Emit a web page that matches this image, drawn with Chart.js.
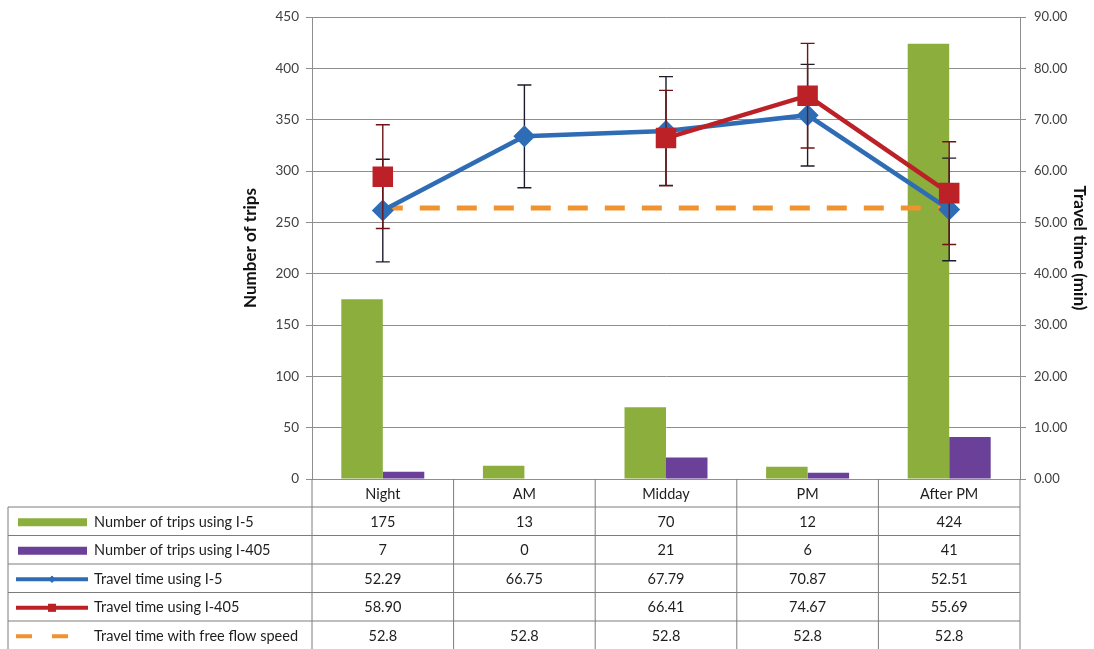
<!DOCTYPE html>
<html>
<head>
<meta charset="utf-8">
<title>Trips and travel time by period</title>
<script src="https://cdn.jsdelivr.net/npm/chart.js@4.4.1/dist/chart.umd.min.js"></script>
<style>
  html, body { margin: 0; padding: 0; background: #fff; }
</style>
</head>
<body>
<canvas id="tripsChart" width="1094" height="649"></canvas>
<script>
// data
const periods = ['Night', 'AM', 'Midday', 'PM', 'After PM'];
const tripsI5 = [175, 13, 70, 12, 424];
const tripsI405 = [7, 0, 21, 6, 41];
const timeI5 = [52.29, 66.75, 67.79, 70.87, 52.51];
const timeI405 = [58.90, null, 66.41, 74.67, 55.69];
const timeFreeFlow = [52.8, 52.8, 52.8, 52.8, 52.8];
// whisker half-lengths (min)
const errI5 = [10.0, 10.0, 10.6, 9.9, 10.0];
const errI405 = [10.1, null, 9.3, 10.2, 10.0];

const FONT = 'Lato, "Open Sans", sans-serif';
const GRID = '#8e8e8e';

// whiskers go under the markers of their own series
const errorBars = {
    id: 'errorBars',
    beforeDatasetDraw(chart, args) {
        const ds = chart.data.datasets[args.index];
        if (!ds.errors) return;
        const y1 = chart.scales.y1;
        const ctx = chart.ctx;
        ctx.save();
        ctx.strokeStyle = ds.errorColor;
        ctx.lineWidth = 1.4;
        args.meta.data.forEach((pt, i) => {
            const v = ds.data[i], e = ds.errors[i];
            if (v == null || e == null) return;
            const top = y1.getPixelForValue(v + e);
            const bot = y1.getPixelForValue(v - e);
            ctx.beginPath();
            ctx.moveTo(pt.x, top); ctx.lineTo(pt.x, bot);
            ctx.moveTo(pt.x - 7, top); ctx.lineTo(pt.x + 7, top);
            ctx.moveTo(pt.x - 7, bot); ctx.lineTo(pt.x + 7, bot);
            ctx.stroke();
        });
        ctx.restore();
    }
};

// Excel-style data table under the plot
const dataTable = {
    id: 'dataTable',
    afterDraw(chart) {
        const { ctx, chartArea, scales: { x } } = chart;
        const top = chartArea.bottom;
        const headH = 28, rowH = 28.5;
        const tLeft = 8, tRight = chartArea.right;
        const bottom = chart.height;
        const n = periods.length;
        const step = chartArea.width / n;
        const bounds = [];
        for (let i = 0; i <= n; i++) bounds.push(chartArea.left + i * step);

        ctx.save();
        ctx.strokeStyle = '#7c7c7c';
        ctx.lineWidth = 1;
        ctx.beginPath();
        // column lines
        bounds.forEach(bx => { ctx.moveTo(bx, top); ctx.lineTo(bx, bottom); });
        ctx.moveTo(tLeft, top + headH); ctx.lineTo(tLeft, bottom);
        // row lines
        const rows = chart.data.datasets;
        for (let r = 0; r < rows.length; r++) {
            const ry = top + headH + r * rowH;
            ctx.moveTo(tLeft, ry); ctx.lineTo(tRight, ry);
        }
        ctx.stroke();

        ctx.font = '14.5px ' + FONT;
        ctx.fillStyle = '#1e1e1e';
        ctx.textAlign = 'center';
        ctx.textBaseline = 'middle';
        periods.forEach((p, i) => ctx.fillText(p, x.getPixelForValue(i), top + headH / 2 + 1));

        rows.forEach((ds, r) => {
            const cy = top + headH + r * rowH + rowH / 2 + 1;
            // legend key
            ctx.save();
            if (ds.type === 'bar') {
                ctx.fillStyle = ds.backgroundColor;
                ctx.fillRect(18, cy - 4, 69, 8);
            } else {
                ctx.strokeStyle = ds.borderColor;
                ctx.lineWidth = 4;
                if (ds.borderDash) ctx.setLineDash([16, 20]);
                ctx.beginPath();
                ctx.moveTo(16, cy); ctx.lineTo(88, cy);
                ctx.stroke();
                if (ds.pointRadius) {
                    ctx.setLineDash([]);
                    ctx.fillStyle = ds.borderColor;
                    Chart.helpers.drawPoint(ctx, { pointStyle: ds.pointStyle, radius: ds.keyRadius, rotation: 0, borderWidth: 0 }, 52, cy);
                    ctx.fill();
                }
            }
            ctx.restore();

            ctx.textAlign = 'left';
            ctx.fillText(ds.label, 94, cy);
            ctx.textAlign = 'center';
            ds.data.forEach((v, i) => {
                if (v == null) return;
                ctx.fillText(ds.fmt(v), x.getPixelForValue(i), cy);
            });
        });
        ctx.restore();
    }
};

new Chart(document.getElementById('tripsChart'), {
    data: {
        labels: periods,
        datasets: [
            {
                type: 'bar',
                label: 'Number of trips using I-5',
                data: tripsI5,
                yAxisID: 'y',
                backgroundColor: '#8bae3d',
                categoryPercentage: 0.586,
                barPercentage: 1,
                order: 3,
                fmt: v => String(v)
            },
            {
                type: 'bar',
                label: 'Number of trips using I-405',
                data: tripsI405,
                yAxisID: 'y',
                backgroundColor: '#6a4098',
                categoryPercentage: 0.586,
                barPercentage: 1,
                order: 3,
                fmt: v => String(v)
            },
            {
                type: 'line',
                label: 'Travel time using I-5',
                data: timeI5,
                yAxisID: 'y1',
                borderColor: '#2e6db5',
                backgroundColor: '#2e6db5',
                borderWidth: 4.5,
                pointStyle: 'rectRot',
                pointRadius: 11,
                pointBorderWidth: 0,
                keyRadius: 3.5,
                tension: 0,
                errors: errI5,
                errorColor: '#1c1c2c',
                order: 1,
                fmt: v => v.toFixed(2)
            },
            {
                type: 'line',
                label: 'Travel time using I-405',
                data: timeI405,
                yAxisID: 'y1',
                borderColor: '#bb2127',
                backgroundColor: '#bb2127',
                borderWidth: 4.5,
                pointStyle: 'rect',
                pointRadius: 14.5,
                pointBorderWidth: 0,
                keyRadius: 5.5,
                tension: 0,
                spanGaps: false,
                errors: errI405,
                errorColor: '#6e1416',
                order: 0,
                fmt: v => v.toFixed(2)
            },
            {
                type: 'line',
                label: 'Travel time with free flow speed',
                data: timeFreeFlow,
                yAxisID: 'y1',
                borderColor: '#f0932f',
                borderWidth: 5,
                borderDash: [20, 17],
                borderCapStyle: 'butt',
                pointRadius: 0,
                tension: 0,
                order: 2,
                fmt: v => String(v)
            }
        ]
    },
    options: {
        responsive: false,
        animation: false,
        layout: { padding: { left: 236, right: 0, top: 17, bottom: 170 } },
        plugins: {
            legend: { display: false },
            tooltip: { enabled: false }
        },
        scales: {
            x: {
                display: false,
                offset: true
            },
            y: {
                position: 'left',
                min: 0,
                max: 450,
                afterFit: s => { s.width = 76; },
                ticks: { stepSize: 50, padding: 7, color: '#404040', font: { family: FONT, size: 13.5 } },
                grid: { color: GRID, tickLength: 6 },
                border: { color: GRID },
                title: {
                    display: true,
                    text: 'Number of trips',
                    color: '#111',
                    font: { family: FONT, size: 17, weight: 'bold' }
                }
            },
            y1: {
                position: 'right',
                min: 0,
                max: 90,
                afterFit: s => { s.width = 74; },
                ticks: {
                    stepSize: 10,
                    padding: 8,
                    color: '#404040',
                    font: { family: FONT, size: 13 },
                    callback: v => v.toFixed(2)
                },
                grid: { drawOnChartArea: false, color: GRID, tickLength: 6 },
                border: { color: GRID },
                title: {
                    display: true,
                    text: 'Travel time (min)',
                    color: '#111',
                    padding: { top: 4, bottom: 0 },
                    font: { family: FONT, size: 17, weight: 'bold' }
                }
            }
        }
    },
    plugins: [errorBars, dataTable]
});
</script>
</body>
</html>
